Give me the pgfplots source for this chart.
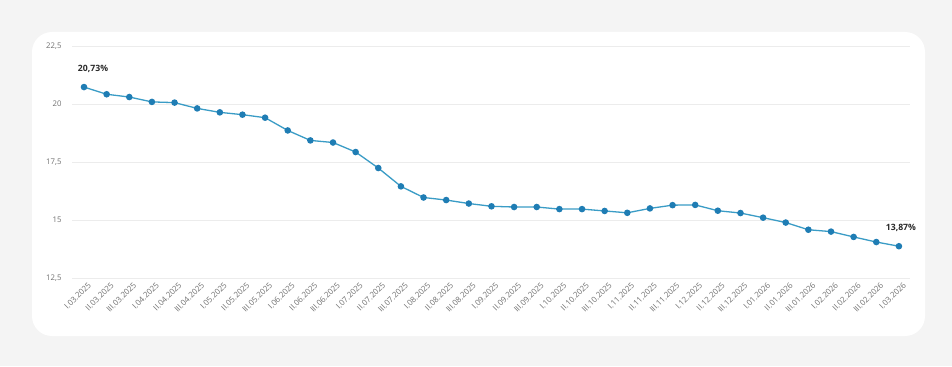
\documentclass[border=0pt]{standalone}
\usepackage{pgfplots}
\pgfplotsset{compat=1.18}
\usepackage{fontspec}
\setmainfont{Open Sans}
\definecolor{bg}{HTML}{F4F4F4}
\definecolor{linec}{HTML}{3A9CC6}
\definecolor{markc}{HTML}{1F7DB4}
\definecolor{gridc}{HTML}{ECECEC}
\definecolor{tickc}{HTML}{707070}
\definecolor{labc}{HTML}{2B2B2B}
\begin{document}
\begin{tikzpicture}[x=1bp,y=1bp]
\useasboundingbox (0,0) rectangle (952,366);
\fill[bg] (0,0) rectangle (952,366);
\fill[white, rounded corners=20bp] (32,30) rectangle (925,334);
\begin{axis}[
  at={(72bp,88bp)}, anchor=south west,
  scale only axis, width=838bp, height=232bp,
  xmin=-0.53, xmax=36.49, ymin=12.5, ymax=22.5,
  ytick={12.5,15,17.5,20,22.5},
  /pgf/number format/use comma,
  /pgf/number format/assume math mode=true,
  axis line style={draw=none},
  ymajorgrids, grid style={gridc, line width=0.8bp},
  major tick length=0,
  xtick={0,...,36},
  xticklabels={I.03.2025,II.03.2025,III.03.2025,I.04.2025,II.04.2025,III.04.2025,I.05.2025,II.05.2025,III.05.2025,I.06.2025,II.06.2025,III.06.2025,I.07.2025,II.07.2025,III.07.2025,I.08.2025,II.08.2025,III.08.2025,I.09.2025,II.09.2025,III.09.2025,I.10.2025,II.10.2025,III.10.2025,I.11.2025,II.11.2025,III.11.2025,I.12.2025,II.12.2025,III.12.2025,I.01.2026,II.01.2026,III.01.2026,I.02.2026,II.02.2026,III.02.2026,I.03.2026},
  x tick label style={rotate=45, anchor=north east, font=\fontsize{8}{9}\selectfont, text=tickc, inner sep=1bp, yshift=-4bp, xshift=1bp},
  y tick label style={font=\fontsize{7.8}{9}\selectfont, text=tickc, xshift=-7bp},
  clip=false,
]
\addplot[linec, line width=1.3bp, mark=*, mark size=2.6bp, mark options={fill=markc, draw=markc}] coordinates {
(0,20.73) (1,20.42) (2,20.30) (3,20.09) (4,20.06) (5,19.81) (6,19.64) (7,19.54) (8,19.41)
(9,18.86) (10,18.43) (11,18.34) (12,17.93) (13,17.24) (14,16.45) (15,15.97) (16,15.86)
(17,15.71) (18,15.59) (19,15.56) (20,15.56) (21,15.47) (22,15.47) (23,15.39) (24,15.31)
(25,15.50) (26,15.64) (27,15.65) (28,15.40) (29,15.30) (30,15.10) (31,14.89) (32,14.58)
(33,14.50) (34,14.27) (35,14.05) (36,13.87)
};
\node[font=\bfseries\fontsize{8.7}{10}\selectfont, text=labc] at (axis cs:0,20.73) [xshift=9bp, yshift=18bp] {20,73\%};
\node[font=\bfseries\fontsize{8.7}{10}\selectfont, text=labc] at (axis cs:36,13.87) [xshift=2bp, yshift=18bp] {13,87\%};
\end{axis}
\end{tikzpicture}
\end{document}
